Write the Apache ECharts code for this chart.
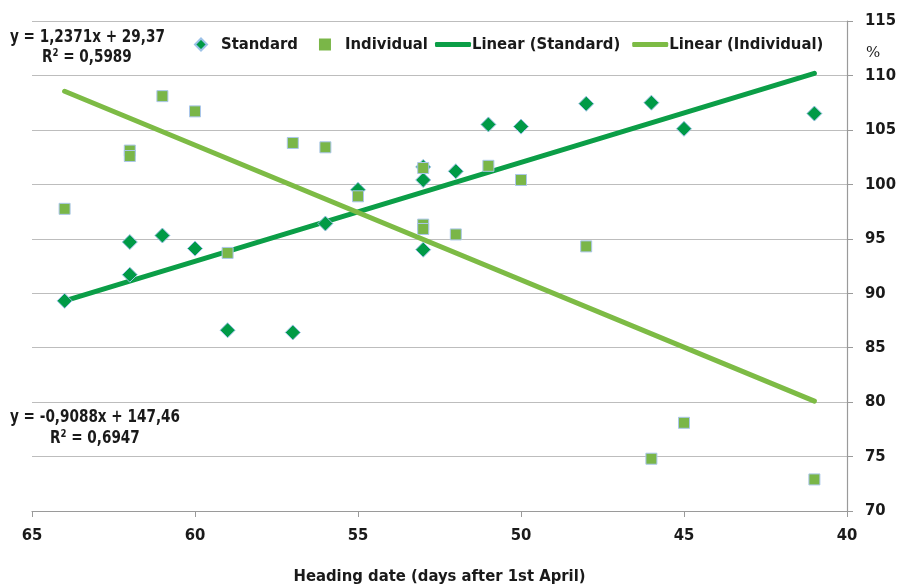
<!DOCTYPE html>
<html>
<head>
<meta charset="utf-8">
<script src="https://cdn.jsdelivr.net/npm/echarts@6/dist/echarts.min.js"></script>
<style>
  html, body { margin: 0; padding: 0; background: #fff; }
  #chart { width: 897px; height: 587px; }
</style>
</head>
<body>
<div id="chart"></div>
<script>
// Heading date (days after 1 April) and relative value (%) per line
const standardX = [64, 62, 62, 61, 60, 59, 57, 56, 55, 53, 53, 53, 52, 51, 50, 48, 46, 45, 41];
const standardY = [89.3, 94.7, 91.7, 95.3, 94.1, 86.6, 86.4, 96.4, 99.5, 101.6, 100.4, 94.0, 101.2, 105.5, 105.3, 107.4, 107.5, 105.1, 106.5];

const individualX = [64, 62, 62, 61, 60, 59, 57, 56, 55, 53, 53, 53, 52, 51, 50, 48, 46, 45, 41];
const individualY = [97.75, 103.1, 102.6, 108.1, 106.7, 93.7, 103.8, 103.4, 98.9, 101.5, 96.3, 95.9, 95.4, 101.7, 100.4, 94.3, 74.8, 78.1, 72.9];

// Linear fits as printed on the chart
const fitStandard = { slope: -0.9088, intercept: 147.46, r2: '0,6947' };
const fitIndividual = { slope: 1.2371, intercept: 29.37, r2: '0,5989' };
const fitRange = [64, 41];

const xTicks = { min: 40, max: 65, step: 5 };
const yTicks = { min: 70, max: 115, step: 5 };

const FONT = "'Liberation Sans Narrow', 'Arial Narrow', 'DejaVu Sans Condensed', sans-serif";
const INK = '#1a1a1a';
const C_STD = '#009a46';
const C_IND = '#7ab648';
const C_STD_LINE = '#0b9e47';
const C_IND_LINE = '#7dbb45';

const pairs = (xs, ys) => xs.map((x, i) => [x, ys[i]]);
const fitLine = f => fitRange.map(x => [x, f.slope * x + f.intercept]);
const fmt = v => String(v).replace('.', ',');
const eqText = f => 'y = ' + fmt(f.slope) + 'x + ' + fmt(f.intercept);

// narrow bold caption text for the regression equations
const caption = (text, x, y) => ({
  type: 'text', x: x, y: y, scaleX: 0.84,
  style: { text: text, font: 'bold 18px ' + FONT, fill: INK, verticalAlign: 'top' }
});

const chart = echarts.init(document.getElementById('chart'));
chart.setOption({
  animation: false,
  backgroundColor: '#fff',
  textStyle: { fontFamily: FONT },
  grid: { left: 32, right: 50, top: 21, bottom: 76, containLabel: false, outerBoundsMode: 'none' },
  xAxis: {
    type: 'value', inverse: true,
    min: xTicks.min, max: xTicks.max, interval: xTicks.step,
    name: 'Heading date (days after 1st April)',
    nameLocation: 'middle', nameGap: 57,
    nameTextStyle: { fontFamily: FONT, fontWeight: 'bold', fontSize: 16.5, color: INK },
    axisLine: { lineStyle: { color: '#9a9a9a', width: 1.2 } },
    axisTick: { show: true, length: 6, lineStyle: { color: '#9a9a9a' } },
    axisLabel: { fontFamily: FONT, fontWeight: 'bold', fontSize: 16.5, color: INK, margin: 16 },
    splitLine: { show: false }
  },
  yAxis: {
    type: 'value', position: 'right',
    min: yTicks.min, max: yTicks.max, interval: yTicks.step,
    axisLine: { show: true, lineStyle: { color: '#9a9a9a', width: 1.2 } },
    axisTick: { show: true, length: 6, lineStyle: { color: '#9a9a9a' } },
    axisLabel: { fontFamily: FONT, fontWeight: 'bold', fontSize: 16.5, color: INK, margin: 18 },
    splitLine: { show: true, lineStyle: { color: '#bdbdbd', width: 1.2 } }
  },
  legend: [
    {
      left: 189, top: 31, itemGap: 21, itemWidth: 12, itemHeight: 12,
      textStyle: { fontFamily: FONT, fontWeight: 'bold', fontSize: 16.5, color: INK, padding: [0, 0, 0, 9] },
      data: [
        { name: 'Standard', icon: 'diamond' },
        { name: 'Individual', icon: 'rect', itemStyle: { borderWidth: 0 } }
      ]
    },
    {
      left: 430, top: 31, itemGap: 12, itemWidth: 36, itemHeight: 5,
      textStyle: { fontFamily: FONT, fontWeight: 'bold', fontSize: 16.5, color: INK, padding: [0, 0, 0, -4] },
      data: [
        { name: 'Linear (Standard)', icon: 'roundRect' },
        { name: 'Linear (Individual)', icon: 'roundRect' }
      ]
    }
  ],
  graphic: [
    caption(eqText(fitIndividual), 10, 28),
    caption('R² = ' + fitIndividual.r2, 42, 48),
    caption(eqText(fitStandard), 10, 408),
    caption('R² = ' + fitStandard.r2, 50, 429),
    { type: 'text', x: 866, y: 46, style: { text: '%', font: '15px "DejaVu Serif", serif', fill: INK, verticalAlign: 'top' } }
  ],
  series: [
    {
      name: 'Linear (Standard)', type: 'line', data: fitLine(fitStandard),
      showSymbol: false, symbol: 'none', z: 2,
      itemStyle: { color: C_STD_LINE },
      lineStyle: { color: C_STD_LINE, width: 5, cap: 'round' }
    },
    {
      name: 'Linear (Individual)', type: 'line', data: fitLine(fitIndividual),
      showSymbol: false, symbol: 'none', z: 2,
      itemStyle: { color: C_IND_LINE },
      lineStyle: { color: C_IND_LINE, width: 5, cap: 'round' }
    },
    {
      name: 'Standard', type: 'scatter', data: pairs(standardX, standardY),
      symbol: 'diamond', symbolSize: 15, z: 3,
      itemStyle: { color: C_STD, borderColor: '#9cc2e8', borderWidth: 1, opacity: 1 }
    },
    {
      name: 'Individual', type: 'scatter', data: pairs(individualX, individualY),
      symbol: 'rect', symbolSize: 11, z: 4,
      itemStyle: { color: C_IND, borderColor: '#aac6ea', borderWidth: 1, opacity: 1 }
    }
  ]
});
</script>
</body>
</html>
